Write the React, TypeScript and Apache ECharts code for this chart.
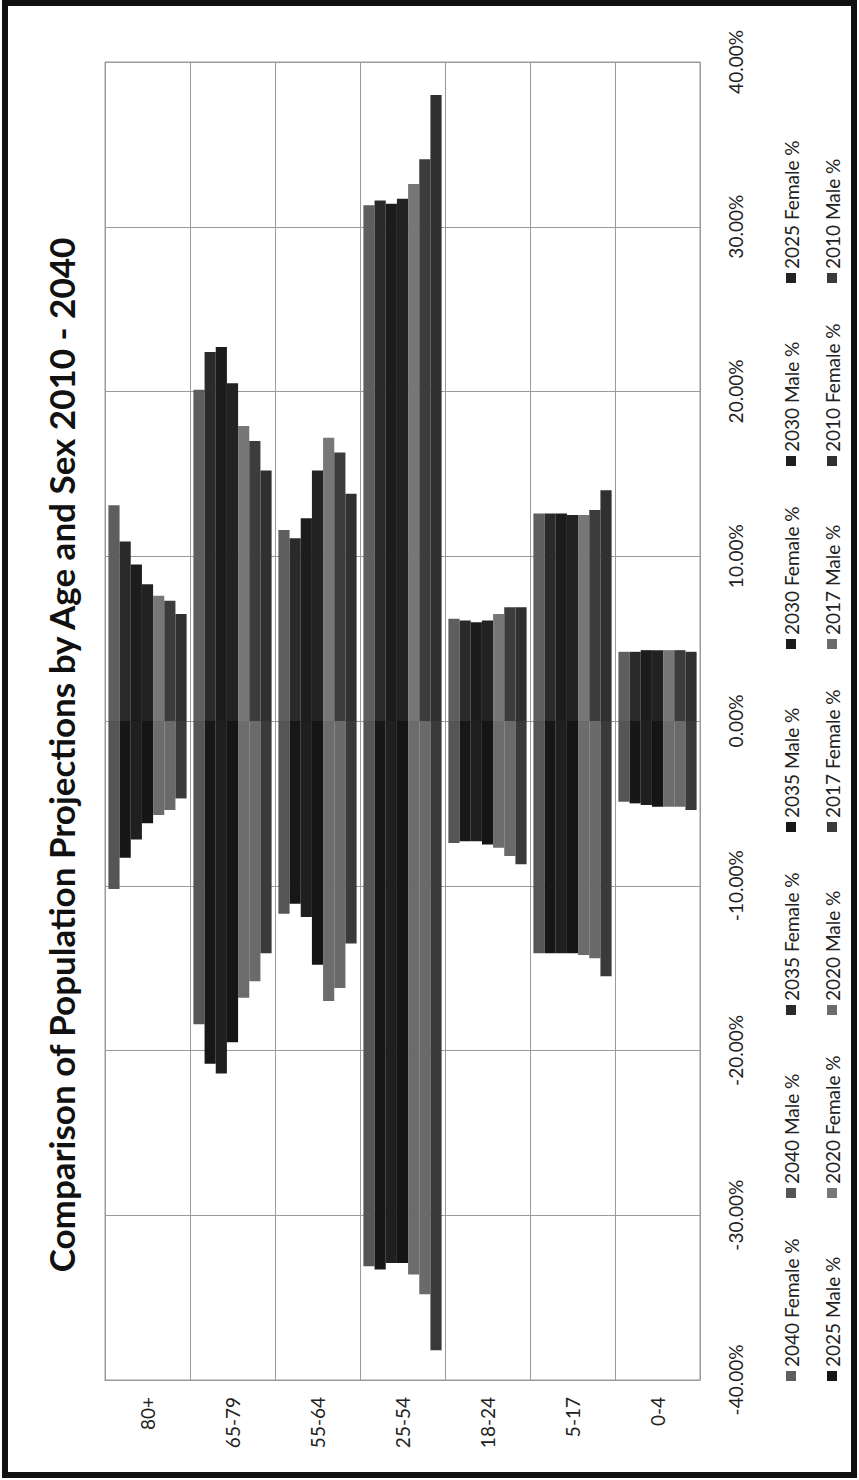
import React, { useEffect, useRef } from "react";
import * as echarts from "echarts";

const categories = ["80+", "65-79", "55-64", "25-54", "18-24", "5-17", "0-4"];
const years = ["2040", "2035", "2030", "2025", "2020", "2017", "2010"];

// Female shares (%), per category
const female2040 = [13.1, 20.1, 11.6, 31.3, 6.2, 12.6, 4.2];
const female2035 = [10.9, 22.4, 11.1, 31.6, 6.1, 12.6, 4.2];
const female2030 = [9.5, 22.7, 12.3, 31.4, 6.0, 12.6, 4.3];
const female2025 = [8.3, 20.5, 15.2, 31.7, 6.1, 12.5, 4.3];
const female2020 = [7.6, 17.9, 17.2, 32.6, 6.5, 12.5, 4.3];
const female2017 = [7.3, 17.0, 16.3, 34.1, 6.9, 12.8, 4.3];
const female2010 = [6.5, 15.2, 13.8, 38.0, 6.9, 14.0, 4.2];

// Male shares (%), plotted as negative values
const male2040 = [-10.2, -18.4, -11.7, -33.1, -7.4, -14.1, -4.9];
const male2035 = [-8.3, -20.8, -11.1, -33.3, -7.3, -14.1, -5.0];
const male2030 = [-7.2, -21.4, -11.9, -32.9, -7.3, -14.1, -5.1];
const male2025 = [-6.2, -19.5, -14.8, -32.9, -7.5, -14.1, -5.2];
const male2020 = [-5.7, -16.8, -17.0, -33.6, -7.7, -14.2, -5.2];
const male2017 = [-5.4, -15.8, -16.2, -34.8, -8.2, -14.4, -5.2];
const male2010 = [-4.7, -14.1, -13.5, -38.2, -8.7, -15.5, -5.4];

const femaleSeries = [female2040, female2035, female2030, female2025, female2020, female2017, female2010];
const maleSeries = [male2040, male2035, male2030, male2025, male2020, male2017, male2010];

const femaleColors = ["#5e5e5e", "#2a2a2a", "#1c1c1c", "#222222", "#777777", "#3c3c3c", "#303030"];
const maleColors = ["#555555", "#171717", "#1f1f1f", "#151515", "#6c6c6c", "#6a6a6a", "#3a3a3a"];

const titleText = "Comparison of Population Projections by Age and Sex 2010 - 2040";
const FONT = "Lato, 'Open Sans', sans-serif";

export default function App() {
  const ref = useRef<HTMLDivElement>(null);
  useEffect(() => {
    document.body.style.margin = "0";
    if (!ref.current) return;
    const chart = echarts.init(ref.current, undefined, { renderer: "svg" });

    const series: any[] = [];
    const legendItems: { name: string; color: string }[] = [];
    years.forEach((y, i) => {
      const fName = `${y} Female %`;
      const mName = `${y} Male %`;
      series.push({
        name: fName,
        type: "bar",
        stack: "year_" + y,
        data: femaleSeries[i],
        barCategoryGap: "8%",
        barGap: "0%",
        itemStyle: { color: femaleColors[i] },
      });
      series.push({
        name: mName,
        type: "bar",
        stack: "year_" + y,
        data: maleSeries[i],
        barCategoryGap: "8%",
        barGap: "0%",
        itemStyle: { color: maleColors[i] },
      });
      legendItems.push({ name: fName, color: femaleColors[i] });
      legendItems.push({ name: mName, color: maleColors[i] });
    });

    const legendGraphics: any[] = legendItems.map((it, idx) => {
      const col = idx < 7 ? 0 : 1;
      const row = idx % 7;
      const cx = col === 0 ? 791 : 832;
      const cy = 1376 - row * 183;
      return {
        type: "group",
        x: cx,
        y: cy,
        rotation: Math.PI / 2,
        children: [
          {
            type: "rect",
            shape: { x: -5, y: -5, width: 10, height: 10 },
            style: { fill: it.color },
          },
          {
            type: "text",
            x: 9,
            y: 0,
            style: {
              text: it.name,
              font: `19px ${FONT}`,
              fill: "#222",
              textAlign: "left",
              textVerticalAlign: "middle",
            },
          },
        ],
      };
    });

    chart.setOption({
      animation: false,
      backgroundColor: "#ffffff",
      grid: {
        left: 105,
        right: 159,
        top: 62,
        bottom: 100,
        show: true,
        borderColor: "#9a9a9a",
        borderWidth: 1,
        containLabel: false,
      },
      xAxis: {
        type: "category",
        data: categories,
        axisLine: { onZero: false, lineStyle: { color: "#9a9a9a" } },
        axisTick: { show: false },
        splitLine: { show: true, lineStyle: { color: "#9a9a9a" } },
        axisLabel: {
          rotate: 90,
          margin: 17,
          fontSize: 19,
          fontFamily: FONT,
          color: "#222",
        },
      },
      yAxis: {
        type: "value",
        position: "right",
        min: -40,
        max: 40,
        interval: 10,
        axisLine: { show: false },
        axisTick: { show: false },
        splitLine: { lineStyle: { color: "#9a9a9a" } },
        axisLabel: {
          rotate: 90,
          margin: 26,
          align: "center",
          verticalAlign: "top",
          fontSize: 19,
          fontFamily: FONT,
          color: "#222",
          formatter: (v: number) => v.toFixed(2) + "%",
        },
      },
      series,
      graphic: [
        {
          type: "rect",
          shape: { x: 5, y: 3, width: 849, height: 1472 },
          style: { fill: "none", stroke: "#111", lineWidth: 6 },
          silent: true,
        },
        {
          type: "text",
          x: 61,
          y: 755,
          rotation: Math.PI / 2,
          style: {
            text: titleText,
            font: `bold 35px ${FONT}`,
            fill: "#111",
            textAlign: "center",
            textVerticalAlign: "middle",
          },
        },
        ...legendGraphics,
      ],
    });
    return () => chart.dispose();
  }, []);
  return <div ref={ref} style={{ width: 859, height: 1480 }} />;
}
